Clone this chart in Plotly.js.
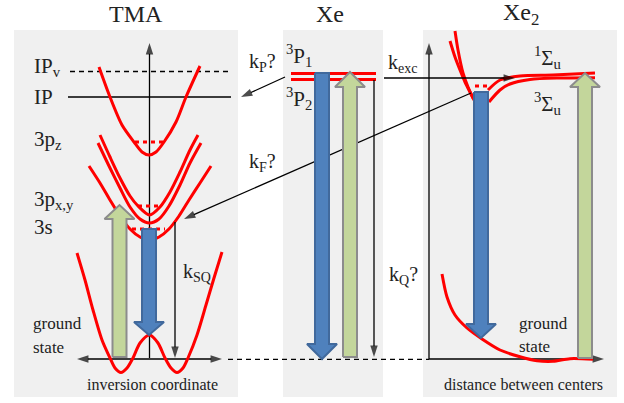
<!DOCTYPE html>
<html>
<head>
<meta charset="utf-8">
<script src="https://cdn.plot.ly/plotly-3.0.1.min.js"></script>
<style>body{margin:0;background:#fff}#chart{width:624px;height:403px}</style>
</head>
<body>
<div id="chart"></div>
<script>
const ipCurveX=[99,110,122,134,142,149,156,164,176,186,200];
const ipCurveY=[67,97,125,142,152,155,152,142,122,97,66];
const pzCurveX=[100,110,120,130,138,149.5,160,170,180,190,198];
const pzCurveY=[135,157,178,196,206,215,207,192,172,150,135];
const pxyCurveX=[98,110,120,130,140,149.5,159,169,180,190,201];
const pxyCurveY=[143,168,188,207,219,223,219,206,185,163,143];
const s3CurveX=[89,100,110,120,130,140,149.5,159,169,179,189,200,211];
const s3CurveY=[166,183,200,216,229,237,240,237,229,216,200,183,166];
const wellX=[77,85,93,102,110,115,121,127,133,140,149.5,158,165,171,177,183,188,197,206,214,222];
const wellY=[253,280,310,340,358,368,372.5,368,358,343,335,343,358,368,372.5,368,358,335,305,278,252];

const xeUpperY=73.5, xeLowerY=79.5, xeLineX=[291,376];

const sigmaUpLeftX=[455,458,463,468,473], sigmaUpLeftY=[31,50,73,87,98];
const sigmaLowLeftX=[450,455,460,465,470,474], sigmaLowLeftY=[41,57,70,82,92,100];
const sigmaUpRightX=[488,500,520,553,595], sigmaUpRightY=[90,80,76,75,73];
const sigmaLowRightX=[489,500,510,530,560,595], sigmaLowRightY=[102,90,84,79.5,78,77.7];
const xe2GroundX=[442,447,455,467,482,500,520,537,553,570,593];
const xe2GroundY=[274,297,315,328,339,350,356.7,360.7,361.3,358.7,359.3];

// vibrational levels
const dotted=[[135,163,142],[138,160,206],[132,165,229],[475,490,86]];

// block arrows: centre, start, head base, tip
const blueArrows=[[149,229,322,335],[322,73,344,359],[481,92,324,338]];
const greenArrows=[[119.5,357,219,205],[350,357,87,72],[585,358,87,73]];

// thin arrows
const tmaUpX=[149.5,149.5], tmaUpY=[358,43];
const tmaLeftX=[149,77], tmaLeftY=[359,359];
const tmaRightX=[149,222], tmaRightY=[359,359];
const xe2UpX=[429,429], xe2UpY=[359,43];
const xe2RightX=[429,604], xe2RightY=[359,359];
const kpX=[285,241], kpY=[77,97];
const kfX=[471,184], kfY=[93,219];
const ksqX=[175,175], ksqY=[222,358];
const kqX=[374,374], kqY=[80,357];
const kexcX=[384,515], kexcY=[78,78];

const panelX=[[14,238],[283,383],[423,617]];
const panelTop=30, panelBottom=397;

const labelText=['TMA','Xe','Xe<sub>2</sub>','IP<sub>v</sub>','IP','3p<sub>z</sub>','3p<sub>x,y</sub>','3s','k<sub>SQ</sub>','k<sub>P</sub>?','k<sub>F</sub>?','<sup>3</sup>P<sub>1</sub>','<sup>3</sup>P<sub>2</sub>','k<sub>exc</sub>','k<sub>Q</sub>?','<sup>1</sup>Σ<sub>u</sub>','<sup>3</sup>Σ<sub>u</sub>','ground','state','ground','state','inversion coordinate','distance between centers'];
const labelX=[136,330,521,33,33,33,33,33,182,248,248,285,285,387,388,533,533,32,32,518,518,152,523];
const labelY=[14,14,14,67,97,140,200,227,272,62,162,55,98,63,275,57,103,323,347,323,346,384,384];
const labelSize=[24,24,24,21,21,21,21,21,20,20,20,21,21,20,20,21,21,17,17,17,17,16,16];
const labelAnchor=['center','center','center','left','left','left','left','left','left','left','left','left','left','left','left','left','left','left','left','left','left','center','center'];

const RED='#ff0000', BLACK='#000000';

function redLine(x,y){return {x:x,y:y,mode:'lines',line:{color:RED,width:3,shape:'spline',smoothing:0.8}};}
function blackLine(x,y,dash){return {x:x,y:y,mode:'lines',line:{color:BLACK,width:1.3,dash:dash||'solid'}};}
function thinArrow(x,y){
  return {x:x,y:y,mode:'lines+markers',line:{color:BLACK,width:1.3},
    marker:{symbol:'arrow',angleref:'previous',size:[0,12],color:BLACK,line:{width:0}}};
}
function blockArrow(a,fill,edge){
  let c=a[0],start=a[1],base=a[2],tip=a[3];
  return {x:[c-7,c+7,c+7,c+15,c,c-15,c-7,c-7],y:[start,start,base,base,tip,base,base,start],
    mode:'lines',fill:'toself',fillcolor:fill,line:{color:edge,width:2}};
}

let traces=[
  blackLine([70,231],[71.5,71.5],'5px,4px'),
  blackLine([68,231],[97,97]),
  blackLine([228,429],[359.3,359.3],'5px,4px'),
  thinArrow(tmaUpX,tmaUpY),thinArrow(tmaLeftX,tmaLeftY),thinArrow(tmaRightX,tmaRightY),
  thinArrow(xe2UpX,xe2UpY),thinArrow(xe2RightX,xe2RightY),
  redLine(ipCurveX,ipCurveY),redLine(pzCurveX,pzCurveY),redLine(pxyCurveX,pxyCurveY),redLine(s3CurveX,s3CurveY),redLine(wellX,wellY),
  redLine(xeLineX,[xeUpperY,xeUpperY]),redLine(xeLineX,[xeLowerY,xeLowerY]),
  redLine(sigmaUpLeftX,sigmaUpLeftY),redLine(sigmaLowLeftX,sigmaLowLeftY),redLine(sigmaUpRightX,sigmaUpRightY),redLine(sigmaLowRightX,sigmaLowRightY),redLine(xe2GroundX,xe2GroundY)
];
dotted.forEach(d=>traces.push({x:[d[0],d[1]],y:[d[2],d[2]],mode:'lines',line:{color:RED,width:3,dash:'4px,4px'}}));
[[kpX,kpY],[kfX,kfY],[ksqX,ksqY],[kqX,kqY],[kexcX,kexcY]].forEach(a=>traces.push(thinArrow(a[0],a[1])));
blueArrows.forEach(a=>traces.push(blockArrow(a,'#4f81bd','#41699c')));
greenArrows.forEach(a=>traces.push(blockArrow(a,'#c3d69b','#8c8c8c')));

let layout={
  width:624,height:403,margin:{l:0,r:0,t:0,b:0},showlegend:false,
  paper_bgcolor:'#fff',plot_bgcolor:'#fff',
  font:{family:'"Liberation Serif",serif',color:'#222'},
  xaxis:{range:[0,624],visible:false,fixedrange:true},
  yaxis:{range:[403,0],visible:false,fixedrange:true},
  shapes:panelX.map(p=>({type:'rect',layer:'below',x0:p[0],x1:p[1],y0:panelTop,y1:panelBottom,fillcolor:'#f0f0f0',line:{width:0}})),
  annotations:labelText.map((t,i)=>({text:t,x:labelX[i],y:labelY[i],xref:'x',yref:'y',showarrow:false,
    xanchor:labelAnchor[i],yanchor:'middle',borderpad:0,font:{size:labelSize[i]}}))
};

Plotly.newPlot('chart',traces,layout,{staticPlot:true,displayModeBar:false});
</script>
</body>
</html>
